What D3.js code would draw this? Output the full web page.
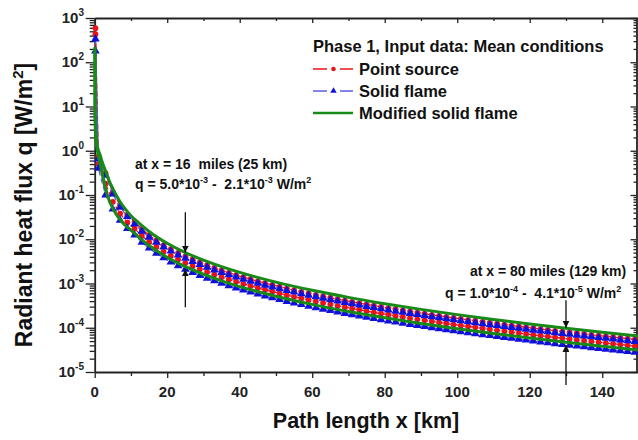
<!DOCTYPE html>
<html>
<head>
<meta charset="utf-8">
<script src="https://cdnjs.cloudflare.com/ajax/libs/d3/7.8.5/d3.min.js"></script>
<style>
  body { margin: 0; background: #fff; }
  svg { display: block; font-family: "Liberation Sans", Arial, sans-serif; font-weight: bold; }
</style>
</head>
<body>
<svg id="chart" width="638" height="440"></svg>
<script>
// marker positions (km) shared by the point source / solid flame series
var markerKm = [0.2, 1, 3, 5, 7, 9, 11, 13, 15, 17, 19, 21, 23, 25, 27, 29, 31, 33, 35, 37, 39,
  41, 43, 45, 47, 49, 51, 53, 55, 57, 59, 61, 63, 65, 67, 69, 71, 73, 75, 77, 79,
  81, 83, 85, 87, 89, 91, 93, 95, 97, 99, 101, 103, 105, 107, 109, 111, 113, 115, 117, 119,
  121, 123, 125, 127, 129, 131, 133, 135, 137, 139, 141, 143, 145, 147, 149];

var pointSourceHigh = [590, 0.75, 0.31, 0.116, 0.059, 0.036, 0.025, 0.017, 0.0123, 0.0094, 0.0074, 0.0060, 0.0049, 0.0041, 0.0035, 0.0030, 2.6e-3, 2.25e-3, 1.97e-3, 1.74e-3, 1.55e-3,
  1.39e-3, 1.25e-3, 1.12e-3, 1.02e-3, 9.3e-4, 8.45e-4, 7.7e-4, 7.07e-4, 6.5e-4, 5.99e-4, 5.54e-4, 5.13e-4, 4.76e-4, 4.43e-4, 4.12e-4, 3.85e-4, 3.6e-4, 3.36e-4, 3.16e-4, 2.96e-4,
  2.78e-4, 2.62e-4, 2.47e-4, 2.33e-4, 2.2e-4, 2.07e-4, 1.96e-4, 1.86e-4, 1.76e-4, 1.67e-4, 1.58e-4, 1.51e-4, 1.44e-4, 1.36e-4, 1.3e-4, 1.24e-4, 1.18e-4, 1.12e-4, 1.07e-4, 1.03e-4,
  9.76e-5, 9.35e-5, 8.94e-5, 8.53e-5, 8.2e-5, 7.86e-5, 7.53e-5, 7.22e-5, 6.92e-5, 6.64e-5, 6.38e-5, 6.13e-5, 5.89e-5, 5.66e-5, 5.44e-5];

var pointSourceLow = [430, 0.5, 0.18, 0.07, 0.038, 0.024, 0.0174, 0.0119, 0.0087, 0.0067, 0.0052, 0.0042, 3.47e-3, 2.9e-3, 2.46e-3, 2.11e-3, 1.82e-3, 1.59e-3, 1.39e-3, 1.23e-3, 1.1e-3,
  9.8e-4, 8.82e-4, 7.95e-4, 7.19e-4, 6.55e-4, 5.97e-4, 5.45e-4, 5.0e-4, 4.6e-4, 4.24e-4, 3.92e-4, 3.63e-4, 3.37e-4, 3.13e-4, 2.92e-4, 2.72e-4, 2.55e-4, 2.38e-4, 2.23e-4, 2.09e-4,
  1.97e-4, 1.85e-4, 1.75e-4, 1.65e-4, 1.55e-4, 1.47e-4, 1.39e-4, 1.32e-4, 1.25e-4, 1.18e-4, 1.12e-4, 1.07e-4, 1.02e-4, 9.63e-5, 9.16e-5, 8.76e-5, 8.35e-5, 7.95e-5, 7.6e-5, 7.25e-5,
  6.9e-5, 6.61e-5, 6.32e-5, 6.03e-5, 5.8e-5, 5.56e-5, 5.32e-5, 5.1e-5, 4.9e-5, 4.7e-5, 4.51e-5, 4.33e-5, 4.16e-5, 4.0e-5, 3.85e-5];

var solidFlameHigh = [335, 0.65, 0.28, 0.105, 0.053, 0.0326, 0.0222, 0.0152, 0.0111, 0.0085, 0.0067, 0.0054, 0.0044, 0.0037, 3.14e-3, 2.69e-3, 2.32e-3, 2.03e-3, 1.78e-3, 1.57e-3, 1.4e-3,
  1.25e-3, 1.12e-3, 1.01e-3, 9.18e-4, 8.36e-4, 7.62e-4, 6.95e-4, 6.38e-4, 5.87e-4, 5.41e-4, 5.0e-4, 4.63e-4, 4.3e-4, 4.0e-4, 3.72e-4, 3.47e-4, 3.25e-4, 3.03e-4, 2.85e-4, 2.67e-4,
  2.51e-4, 2.36e-4, 2.23e-4, 2.1e-4, 1.98e-4, 1.87e-4, 1.77e-4, 1.68e-4, 1.59e-4, 1.51e-4, 1.43e-4, 1.36e-4, 1.3e-4, 1.23e-4, 1.17e-4, 1.12e-4, 1.07e-4, 1.01e-4, 9.69e-5, 9.25e-5,
  8.81e-5, 8.44e-5, 8.07e-5, 7.7e-5, 7.4e-5, 7.09e-5, 6.79e-5, 6.51e-5, 6.25e-5, 5.99e-5, 5.76e-5, 5.53e-5, 5.31e-5, 5.11e-5, 4.91e-5];

var solidFlameLow = [180, 0.4, 0.1, 0.048, 0.027, 0.0175, 0.0124, 0.0086, 0.0063, 0.0048, 0.0038, 3.05e-3, 2.52e-3, 2.1e-3, 1.78e-3, 1.52e-3, 1.32e-3, 1.15e-3, 1.01e-3, 8.9e-4, 7.94e-4,
  7.1e-4, 6.38e-4, 5.75e-4, 5.21e-4, 4.75e-4, 4.33e-4, 3.94e-4, 3.62e-4, 3.33e-4, 3.07e-4, 2.84e-4, 2.63e-4, 2.44e-4, 2.27e-4, 2.11e-4, 1.97e-4, 1.84e-4, 1.72e-4, 1.62e-4, 1.52e-4,
  1.42e-4, 1.34e-4, 1.26e-4, 1.19e-4, 1.13e-4, 1.06e-4, 1.0e-4, 9.53e-5, 9.03e-5, 8.57e-5, 8.11e-5, 7.73e-5, 7.35e-5, 6.97e-5, 6.64e-5, 6.34e-5, 6.05e-5, 5.75e-5, 5.5e-5, 5.25e-5,
  5.0e-5, 4.79e-5, 4.58e-5, 4.37e-5, 4.2e-5, 4.02e-5, 3.86e-5, 3.7e-5, 3.54e-5, 3.4e-5, 3.27e-5, 3.14e-5, 3.02e-5, 2.9e-5, 2.79e-5];

// modified solid flame, upper and lower curve (no markers)
var lineKm = [0.05, 0.1, 0.2, 0.4, 0.7, 1.05, 1.5, 2, 3, 4, 5, 6, 7, 8, 10, 12, 15, 20, 25, 30, 35, 40, 50, 60, 70, 80, 90, 100, 110, 120, 130, 140, 150];
var modifiedHigh = [220, 12, 4.0, 2.0, 1.3, 1.0, 0.8, 0.58, 0.35, 0.21, 0.14, 0.097, 0.07, 0.054, 0.034, 0.024, 0.015, 0.0081, 0.005, 3.37e-3, 2.4e-3, 1.78e-3,
  1.075e-3, 7.02e-4, 4.86e-4, 3.5e-4, 2.6e-4, 1.98e-4, 1.54e-4, 1.22e-4, 9.78e-5, 7.94e-5, 6.51e-5];
var modifiedLow = [200, 8, 2.5, 1.5, 1.05, 0.75, 0.5, 0.32, 0.14, 0.075, 0.05, 0.036, 0.028, 0.0225, 0.016, 0.0115, 0.0072, 0.0039, 0.0024, 1.62e-3, 1.15e-3, 8.5e-4,
  5.16e-4, 3.37e-4, 2.33e-4, 1.68e-4, 1.25e-4, 9.5e-5, 7.4e-5, 5.86e-5, 4.69e-5, 3.81e-5, 3.12e-5];

var xMajor = [0, 20, 40, 60, 80, 100, 120, 140];
var xMinor = [10, 30, 50, 70, 90, 110, 130, 150];
var yExponents = [-5, -4, -3, -2, -1, 0, 1, 2, 3];

// annotation arrows: km, [tail, tip] flux for the down arrow and the up arrow
var arrowKm = [25, 130];
var arrowDown = [[0.041, 5.0e-3], [4.2e-4, 1.0e-4]];
var arrowUp = [[2.9e-4, 2.1e-3], [5.1e-6, 4.1e-5]];

var svg = d3.select("#chart");
var plotLeft = 94.7, plotRight = 638.5, plotTop = 18, plotBottom = 372;

var x = d3.scaleLinear().domain([0, 150]).range([plotLeft, plotRight]);
var y = d3.scaleLog().domain([1e-5, 1e3]).range([plotBottom, plotTop]);

var decades = yExponents.map(function(e) { return Math.pow(10, e); });
var minorY = [];
yExponents.slice(0, -1).forEach(function(e) {
  for (var k = 2; k < 10; k++) minorY.push(k * Math.pow(10, e));
});

function axisStyle(g, w) {
  g.select(".domain").attr("stroke", "#222").attr("stroke-width", w);
  g.selectAll(".tick line").attr("stroke", "#222").attr("stroke-width", 1.3);
  g.selectAll(".tick text").remove();
}

// bottom / top
svg.append("g").attr("transform", "translate(0," + plotBottom + ")")
  .call(d3.axisBottom(x).tickValues(xMajor).tickSize(6).tickSizeOuter(0)).call(axisStyle, 1.8);
svg.append("g").attr("transform", "translate(0," + plotBottom + ")")
  .call(d3.axisBottom(x).tickValues(xMinor).tickSize(4).tickSizeOuter(0)).call(axisStyle, 0);
svg.append("g").attr("transform", "translate(0," + plotTop + ")")
  .call(d3.axisBottom(x).tickValues(xMajor).tickSize(5).tickSizeOuter(0)).call(axisStyle, 1.8);
svg.append("g").attr("transform", "translate(0," + plotTop + ")")
  .call(d3.axisBottom(x).tickValues(xMinor).tickSize(3).tickSizeOuter(0)).call(axisStyle, 0);

// left / right
svg.append("g").attr("transform", "translate(" + plotLeft + ",0)")
  .call(d3.axisLeft(y).tickValues(decades).tickSize(9).tickSizeOuter(0)).call(axisStyle, 1.8);
svg.append("g").attr("transform", "translate(" + plotLeft + ",0)")
  .call(d3.axisLeft(y).tickValues(minorY).tickSize(5).tickSizeOuter(0)).call(axisStyle, 0);
svg.append("g").attr("transform", "translate(" + (plotRight - 2) + ",0)")
  .call(d3.axisLeft(y).tickValues(decades).tickSize(6).tickSizeOuter(0)).call(axisStyle, 1.8);
svg.append("g").attr("transform", "translate(" + (plotRight - 2) + ",0)")
  .call(d3.axisLeft(y).tickValues(minorY).tickSize(3).tickSizeOuter(0)).call(axisStyle, 0);

// tick labels
svg.selectAll("text.xlab").data(xMajor).enter().append("text")
  .attr("class", "xlab")
  .attr("x", function(d) { return x(d); })
  .attr("y", 397)
  .attr("text-anchor", "middle")
  .attr("font-size", 15)
  .attr("fill", "#222")
  .text(function(d) { return d; });

var ylab = svg.selectAll("text.ylab").data(yExponents).enter().append("text")
  .attr("class", "ylab")
  .attr("x", 84)
  .attr("y", function(d) { return y(Math.pow(10, d)) + 5; })
  .attr("text-anchor", "end")
  .attr("font-size", 15)
  .attr("fill", "#222");
ylab.append("tspan").text("10");
ylab.append("tspan").attr("dy", -7).attr("font-size", 10).text(function(d) { return d; });

// axis titles
svg.append("text")
  .attr("x", 366).attr("y", 428)
  .attr("text-anchor", "middle")
  .attr("font-size", 21.5)
  .attr("fill", "#111")
  .text("Path length x [km]");

var yt = svg.append("text")
  .attr("transform", "translate(32,205) rotate(-90)")
  .attr("text-anchor", "middle")
  .attr("font-size", 23)
  .attr("fill", "#111");
yt.append("tspan").text("Radiant heat flux q [W/m");
yt.append("tspan").attr("dy", -9).attr("font-size", 15).text("2");
yt.append("tspan").attr("dy", 9).text("]");

// series
var red = "#e8141a", blue = "#1010d8", blueLine = "#5a5ae0", green = "#188a18";

function markerData(vals) {
  return markerKm.map(function(k, i) { return [k, vals[i]]; });
}
function lineData(vals) {
  return lineKm.map(function(k, i) { return [k, vals[i]]; });
}

var line = d3.line()
  .x(function(d) { return x(d[0]); })
  .y(function(d) { return y(d[1]); });
var smooth = d3.line()
  .x(function(d) { return x(d[0]); })
  .y(function(d) { return y(d[1]); })
  .curve(d3.curveMonotoneX);

var plot = svg.append("g");

[pointSourceHigh, pointSourceLow].forEach(function(vals) {
  plot.append("path").datum(markerData(vals))
    .attr("d", line).attr("fill", "none")
    .attr("stroke", red).attr("stroke-width", 1.3).attr("stroke-dasharray", "5,3");
  plot.selectAll(null).data(markerData(vals)).enter().append("circle")
    .attr("cx", function(d) { return x(d[0]); })
    .attr("cy", function(d) { return y(d[1]); })
    .attr("r", 2.9).attr("fill", red);
});

var tri = d3.symbol().type(d3.symbolTriangle).size(32);
[solidFlameHigh, solidFlameLow].forEach(function(vals) {
  plot.append("path").datum(markerData(vals))
    .attr("d", line).attr("fill", "none")
    .attr("stroke", blueLine).attr("stroke-width", 1.3).attr("stroke-dasharray", "5,3");
  plot.selectAll(null).data(markerData(vals)).enter().append("path")
    .attr("d", tri)
    .attr("transform", function(d) { return "translate(" + x(d[0]) + "," + y(d[1]) + ")"; })
    .attr("fill", blue);
});

[modifiedHigh, modifiedLow].forEach(function(vals) {
  plot.append("path").datum(lineData(vals))
    .attr("d", smooth).attr("fill", "none")
    .attr("stroke", green).attr("stroke-width", 3);
});

// arrows
var defs = svg.append("defs");
defs.append("marker").attr("id", "head")
  .attr("viewBox", "0 0 10 10").attr("refX", 10).attr("refY", 5)
  .attr("markerWidth", 7).attr("markerHeight", 7).attr("markerUnits", "userSpaceOnUse")
  .attr("orient", "auto")
  .append("path").attr("d", "M0,0L10,5L0,10Z").attr("fill", "#111");

arrowKm.forEach(function(k, i) {
  [arrowDown[i], arrowUp[i]].forEach(function(a) {
    svg.append("line")
      .attr("x1", x(k)).attr("x2", x(k))
      .attr("y1", y(a[0])).attr("y2", y(a[1]))
      .attr("stroke", "#111").attr("stroke-width", 1.3)
      .attr("marker-end", "url(#head)");
  });
});

// annotations: plain strings, and {s: "..."} for superscripts
function supLine(tx, ty, parts) {
  var t = svg.append("text").attr("x", tx).attr("y", ty)
    .attr("font-size", 14).attr("fill", "#111")
    .style("white-space", "pre");
  parts.forEach(function(p) {
    if (typeof p === "object") {
      t.append("tspan").attr("dy", -6).attr("font-size", 9).text(p.s);
      t.append("tspan").attr("dy", 6).text(" ");
    } else {
      t.append("tspan").text(p);
    }
  });
  return t;
}

svg.append("text").attr("x", 135).attr("y", 169)
  .attr("font-size", 14).attr("fill", "#111")
  .style("white-space", "pre")
  .text("at x = 16  miles (25 km)");
supLine(135, 189, ["q = 5.0*10", {s: "-3"}, "-  2.1*10", {s: "-3"}, "W/m", {s: "2"}]);

svg.append("text").attr("x", 470).attr("y", 276)
  .attr("font-size", 14).attr("fill", "#111")
  .style("white-space", "pre")
  .text("at x = 80 miles (129 km)");
supLine(445, 298, ["q = 1.0*10", {s: "-4"}, "-  4.1*10", {s: "-5"}, "W/m", {s: "2"}]);

// legend
var lg = svg.append("g");
lg.append("text").attr("x", 313).attr("y", 52)
  .attr("font-size", 16.5).attr("fill", "#111")
  .text("Phase 1, Input data: Mean conditions");

var legendRows = [
  {label: "Point source", color: red, cy: 69, mark: "circle"},
  {label: "Solid flame", color: blueLine, cy: 91, mark: "tri"},
  {label: "Modified solid flame", color: green, cy: 113, mark: "none"}
];
legendRows.forEach(function(r) {
  if (r.mark === "none") {
    lg.append("line").attr("x1", 313).attr("x2", 353).attr("y1", r.cy).attr("y2", r.cy)
      .attr("stroke", r.color).attr("stroke-width", 2.5);
  } else {
    lg.append("line").attr("x1", 313).attr("x2", 327).attr("y1", r.cy).attr("y2", r.cy)
      .attr("stroke", r.color).attr("stroke-width", 1.5);
    lg.append("line").attr("x1", 340).attr("x2", 353).attr("y1", r.cy).attr("y2", r.cy)
      .attr("stroke", r.color).attr("stroke-width", 1.5);
    if (r.mark === "circle") {
      lg.append("circle").attr("cx", 333.5).attr("cy", r.cy).attr("r", 2.3).attr("fill", red);
    } else {
      lg.append("path").attr("d", d3.symbol().type(d3.symbolTriangle).size(18))
        .attr("transform", "translate(333.5," + r.cy + ")").attr("fill", blue);
    }
  }
  lg.append("text").attr("x", 359).attr("y", r.cy + 6)
    .attr("font-size", 16.5).attr("fill", "#111")
    .text(r.label);
});
</script>
</body>
</html>
